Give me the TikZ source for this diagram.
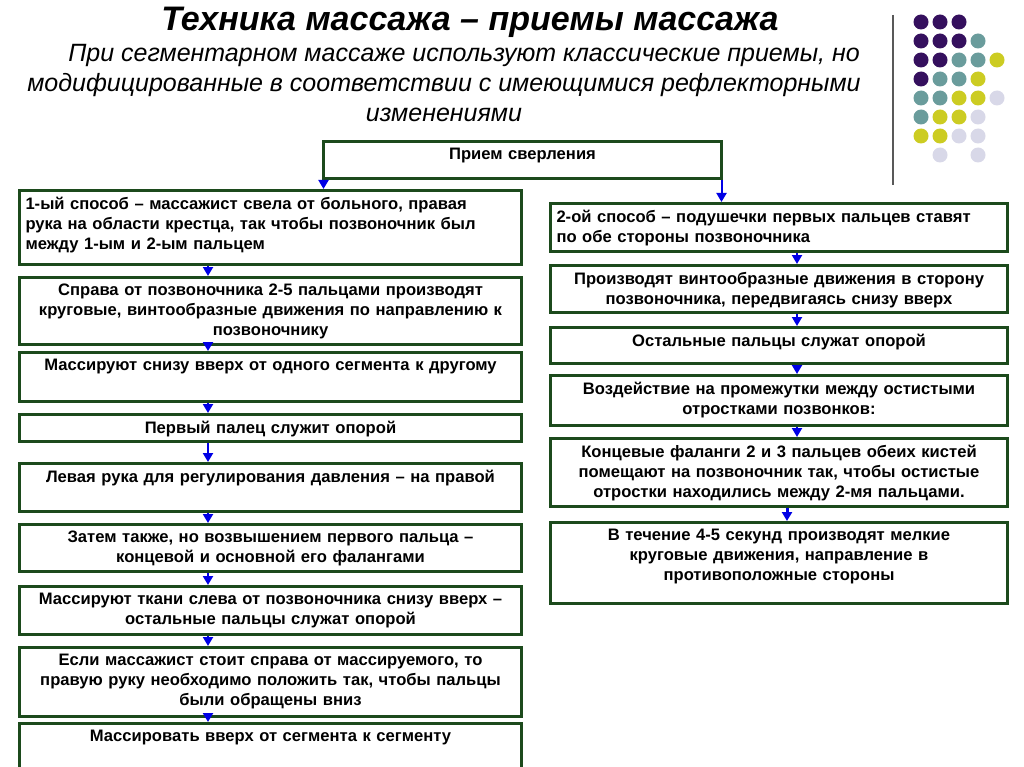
\documentclass[tikz,border=0pt]{standalone}
\usepackage{fontspec}
\setmainfont{Liberation Sans}
\usetikzlibrary{arrows.meta}
\definecolor{boxgreen}{HTML}{1C4A1C}
\definecolor{dotP}{HTML}{35105E}
\definecolor{dotT}{HTML}{6A9C9C}
\definecolor{dotY}{HTML}{CCCC22}
\definecolor{dotL}{HTML}{D8D8E8}
\tikzset{
  bx/.style={draw=boxgreen, line width=3pt, anchor=north west, inner sep=0pt},
  bxtext/.style={anchor=north, inner sep=0pt, font=\bfseries\fontsize{16.6}{20}\selectfont},
  flow/.style={-{Triangle[width=10pt,length=9pt]}, blue!90!black, line width=2pt}
}
% box with top-aligned text: name, x, y, width, height, text width, text
\newcommand{\stepbox}[7]{%
  \node[bx, minimum width=#4pt, minimum height=#5pt] (#1) at (#2,#3) {};
  \node[bxtext, text width=#6pt, align=center] (#1t) at ([yshift=-8pt]#1.north) {#7};
}
\newcommand{\leftbox}[7]{%
  \node[bx, minimum width=#4pt, minimum height=#5pt] (#1) at (#2,#3) {};
  \node[bxtext, text width=#6pt, align=left] (#1t) at ([yshift=-8pt]#1.north) {#7};
}
\begin{document}
\begin{tikzpicture}[x=1pt,y=-1pt]
\useasboundingbox (0,0) rectangle (1024,767);
\fill[white] (0,0) rectangle (1024,767);

% title
\node[font=\bfseries\itshape\fontsize{34}{38}\selectfont] (title) at (470,22) {Техника массажа – приемы массажа};
\node[font=\itshape\fontsize{25}{30}\selectfont, align=center, anchor=north] (sub) at (444,41)
  {\hspace*{40pt}При сегментарном массаже используют классические приемы, но\\
   модифицированные в соответствии с имеющимися рефлекторными\\
   изменениями};

% decoration
\draw[gray!70!black, line width=1.5pt] (893,15) -- (893,185);
\foreach \cl/\pts in {dotP/{0/0,1/0,2/0,0/1,1/1,2/1,0/2,1/2,0/3},
                      dotT/{3/1,2/2,3/2,1/3,2/3,0/4,1/4,0/5},
                      dotY/{4/2,3/3,2/4,3/4,1/5,2/5,0/6,1/6},
                      dotL/{4/4,3/5,2/6,3/6,1/7,3/7}}{
  \foreach \c/\r in \pts
    \fill[\cl] (921+19*\c,22+19*\r) circle (7.5pt);
}

% top
\stepbox{top}{322}{140}{398}{37}{390}{Прием сверления}

% left column
\leftbox{l1}{18}{189}{502}{74}{490}{1-ый способ – массажист свела от больного, правая\\рука на области крестца, так чтобы позвоночник был\\между 1-ым и 2-ым пальцем}
\stepbox{l2}{18}{276}{502}{67}{490}{Справа от позвоночника 2-5 пальцами производят\\круговые, винтообразные движения по направлению к\\позвоночнику}
\stepbox{l3}{18}{351}{502}{49}{490}{Массируют снизу вверх от одного сегмента к другому}
\stepbox{l4}{18}{413}{502}{27}{490}{Первый палец служит опорой}
\stepbox{l5}{18}{462}{502}{48}{490}{Левая рука для регулирования давления – на правой}
\stepbox{l6}{18}{523}{502}{47}{490}{Затем также, но возвышением первого пальца –\\концевой и основной его фалангами}
\stepbox{l7}{18}{585}{502}{48}{490}{Массируют ткани слева от позвоночника снизу вверх –\\остальные пальцы служат опорой}
\stepbox{l8}{18}{646}{502}{69}{490}{Если массажист стоит справа от массируемого, то\\правую руку необходимо положить так, чтобы пальцы\\были обращены вниз}
\stepbox{l9}{18}{722}{502}{60}{490}{Массировать вверх от сегмента к сегменту}

% right column
\leftbox{r1}{549}{202}{457}{48}{445}{2-ой способ – подушечки первых пальцев ставят\\по обе стороны позвоночника}
\stepbox{r2}{549}{264}{457}{47}{445}{Производят винтообразные движения в сторону\\позвоночника, передвигаясь снизу вверх}
\stepbox{r3}{549}{326}{457}{36}{445}{Остальные пальцы служат опорой}
\stepbox{r4}{549}{374}{457}{50}{445}{Воздействие на промежутки между остистыми\\отростками позвонков:}
\stepbox{r5}{549}{437}{457}{68}{445}{Концевые фаланги 2 и 3 пальцев обеих кистей\\помещают на позвоночник так, чтобы остистые\\отростки находились между 2-мя пальцами.}
\stepbox{r6}{549}{521}{457}{81}{445}{В течение 4-5 секунд производят мелкие\\круговые движения, направление в\\противоположные стороны}

% connectors
\draw[flow] ([xshift=1.5pt]top.south west) -- ([xshift=1.5pt]top.south west |- l1.north);
\draw[flow] ([xshift=-1.5pt]top.south east) -- ([xshift=-1.5pt]top.south east |- r1.north);
\foreach \a/\b in {l1/l2,l2/l3,l3/l4,l4/l5,l5/l6,l6/l7,l7/l8,l8/l9}
  \draw[flow] (208,0 |- \a.south) -- (208,0 |- \b.north);
\foreach \a/\b in {r1/r2,r2/r3,r3/r4,r4/r5}
  \draw[flow] (797,0 |- \a.south) -- (797,0 |- \b.north);
\draw[flow, line width=3pt] (787,0 |- r5.south) -- (787,0 |- r6.north);
\end{tikzpicture}
\end{document}
